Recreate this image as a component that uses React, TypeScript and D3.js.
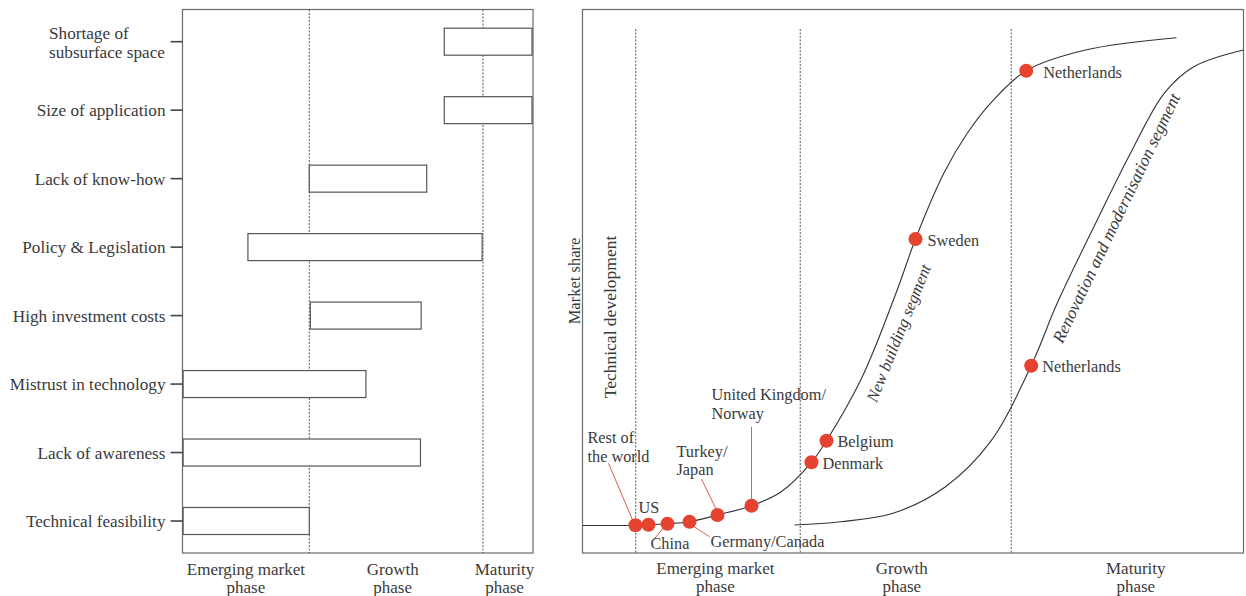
import React from "react";
import * as d3 from "d3";

// ---------- Left panel data ----------
const barriers = [
  "Shortage of|subsurface space",
  "Size of application",
  "Lack of know-how",
  "Policy & Legislation",
  "High investment costs",
  "Mistrust in technology",
  "Lack of awareness",
  "Technical feasibility",
];
// in phase units: 0 = start emerging, 1 = start growth, 2 = start maturity, 3 = end
const barStart = [1.777, 1.777, 1.0, 0.516, 1.006, 0.005, 0.005, 0.005];
const barEnd = [2.98, 2.98, 1.676, 1.995, 1.644, 1.326, 1.64, 1.0];
const leftPhaseBounds = [1, 2];
const leftPhaseLabels = ["Emerging market|phase", "Growth|phase", "Maturity|phase"];
const leftPhaseLabelPos = [0.5, 1.48, 2.43];

// ---------- Right panel data ----------
const newBuildingCurve: [number, number][] = [
  [0, 5.06], [8.02, 5.09], [12.86, 5.39], [16.19, 5.75], [20.42, 6.99],
  [25.57, 8.69], [30, 11.2], [34.64, 16.67], [36.91, 20.64], [42.33, 32.4],
  [47.61, 48.35], [50.38, 57.72], [54.66, 69.8], [58.2, 77.15], [61.72, 82.67],
  [67.13, 88.66], [76.1, 92.46], [89.86, 94.72],
];
const renovationCurve: [number, number][] = [
  [32.07, 5.15], [39.03, 5.75], [46.97, 7.3], [54.92, 12.19], [61.72, 20.46],
  [67.88, 34.43], [71.81, 45.9], [77.87, 61.21], [82.9, 73.47], [88, 84.5],
  [92.48, 89.39], [100, 92.46],
];
const countries = [
  "Rest of|the world", "US", "China", "Germany/Canada", "Turkey/|Japan",
  "United Kingdom/|Norway", "Denmark", "Belgium", "Sweden", "Netherlands", "Netherlands",
];
const countryX = [8.02, 9.98, 12.86, 16.19, 20.42, 25.57, 34.64, 36.91, 50.38, 67.13, 67.88];
const countryY = [5.09, 5.2, 5.39, 5.75, 6.99, 8.69, 16.67, 20.64, 57.72, 88.66, 34.43];
// label offsets in px relative to dot (first line centre) and optional leader line ends
const labelDx = [-48, -10, -17, 21, -41, -40, 11, 11, 12, 17, 11];
const labelDy = [-88, -17, 20, 20, -64, -111, 0.5, 1, 1, 2, 1];
const leaders: ([number, number, number, number] | null)[] = [
  [-27, -62, -2, -3], null, [-13, 15, -3, 3], [0, 2, 20, 15], [-16, -36, -1, -5],
  [0, -79, 0, -6], null, null, null, null, null,
];
const rightPhaseBounds = [8.05, 32.94, 64.86];
const rightPhaseLabels = ["Emerging market|phase", "Growth|phase", "Maturity|phase"];
const rightPhaseLabelPos = [20.1, 48.3, 83.7];

const FONT = "'Liberation Serif', 'Times New Roman', Times, serif";
const TXT = "#3a3a3a";
const AX = "#6a6a6a";
const RED = "#e5432f";

export default function App() {
  // Left panel scales
  const xL = d3.scaleLinear().domain([0, 1, 2, 3]).range([182.5, 309.3, 483, 533]);
  const yL = d3.scalePoint<string>().domain(barriers).range([41.7, 521]);
  const barH = 27;
  const lTop = 9.5, lBottom = 553;

  // Right panel scales
  const xR = d3.scaleLinear().domain([0, 100]).range([582.5, 1243.5]);
  const yR = d3.scaleLinear().domain([0, 100]).range([553, 9]);
  const line = d3
    .line<[number, number]>()
    .x((d) => xR(d[0]))
    .y((d) => yR(d[1]))
    .curve(d3.curveCatmullRom.alpha(0.5));

  const multi = (s: string, x: number, y: number, anchor: string, lh: number, size: number, key: string) => (
    <text key={key} x={x} y={y} textAnchor={anchor} fontSize={size} fontFamily={FONT} fill={TXT}>
      {s.split("|").map((t, i) => (
        <tspan key={i} x={x} dy={i === 0 ? "0.35em" : lh}>
          {t}
        </tspan>
      ))}
    </text>
  );

  return (
    <svg width={1246} height={596} style={{ position: "absolute", left: 0, top: 0, background: "#fff" }}>
      {/* ---------------- Left panel ---------------- */}
      <rect x={xL(0)} y={lTop} width={xL(3) - xL(0)} height={lBottom - lTop} fill="none" stroke={AX} strokeWidth={1.2} />
      {leftPhaseBounds.map((b) => (
        <line key={b} x1={xL(b)} x2={xL(b)} y1={lTop} y2={lBottom} stroke="#444" strokeWidth={0.9} strokeDasharray="2,1.5" />
      ))}
      {barriers.map((c, i) => (
        <g key={c}>
          <rect
            x={xL(barStart[i])}
            y={(yL(c) as number) - barH / 2}
            width={xL(barEnd[i]) - xL(barStart[i])}
            height={barH}
            fill="#fff"
            stroke="#555"
            strokeWidth={1.2}
          />
          <line x1={xL(0) - 12} x2={xL(0)} y1={yL(c)} y2={yL(c)} stroke="#444" strokeWidth={1.6} />
          {c.includes("|")
            ? (
              <text x={49} y={(yL(c) as number) - 8.5} fontSize={17.2} fontFamily={FONT} fill={TXT}>
                {c.split("|").map((t, j) => (
                  <tspan key={j} x={49} dy={j === 0 ? "0.35em" : 19}>{t}</tspan>
                ))}
              </text>
            )
            : (
              <text x={165.5} y={yL(c)} dy="0.35em" textAnchor="end" fontSize={17.2} fontFamily={FONT} fill={TXT}>
                {c}
              </text>
            )}
        </g>
      ))}
      {leftPhaseLabels.map((l, i) => multi(l, xL(leftPhaseLabelPos[i]), 569, "middle", 18.5, 17, "lp" + i))}

      {/* ---------------- Right panel ---------------- */}
      <rect x={xR(0)} y={yR(100) + 0.5} width={xR(100) - xR(0)} height={yR(0) - yR(100) - 0.5} fill="none" stroke={AX} strokeWidth={1.2} />
      {rightPhaseBounds.map((b) => (
        <line key={b} x1={xR(b)} x2={xR(b)} y1={29} y2={yR(0)} stroke="#444" strokeWidth={0.9} strokeDasharray="2,1.5" />
      ))}
      <path d={line(newBuildingCurve) || ""} fill="none" stroke="#333" strokeWidth={1.1} />
      <path d={line(renovationCurve) || ""} fill="none" stroke="#333" strokeWidth={1.1} />

      {countries.map((c, i) => {
        const cx = xR(countryX[i]);
        const cy = yR(countryY[i]);
        const ld = leaders[i];
        return (
          <g key={i}>
            {ld && (
              <line x1={cx + ld[0]} y1={cy + ld[1]} x2={cx + ld[2]} y2={cy + ld[3]} stroke="#d9604f" strokeWidth={1} />
            )}
          </g>
        );
      })}
      {countries.map((c, i) => (
        <circle key={"d" + i} cx={xR(countryX[i])} cy={yR(countryY[i])} r={7} fill={RED} />
      ))}
      {countries.map((c, i) =>
        multi(c, xR(countryX[i]) + labelDx[i], yR(countryY[i]) + labelDy[i], "start", 18.5, 16.3, "cl" + i)
      )}

      {/* segment labels */}
      <text
        transform="translate(898.5,333) rotate(-68)"
        textAnchor="middle"
        dy="0.35em"
        fontSize={16.5}
        fontStyle="italic"
        fontFamily={FONT}
        fill={TXT}
      >
        New building segment
      </text>
      <text
        transform="translate(1116,218) rotate(-64.5)"
        textAnchor="middle"
        dy="0.35em"
        fontSize={17.3}
        fontStyle="italic"
        fontFamily={FONT}
        fill={TXT}
      >
        Renovation and modernisation segment
      </text>
      <text transform="translate(574,281) rotate(-90)" textAnchor="middle" dy="0.35em" fontSize={16.5} fontFamily={FONT} fill={TXT}>
        Market share
      </text>
      <text transform="translate(610,317) rotate(-90)" textAnchor="middle" dy="0.35em" fontSize={17.5} fontFamily={FONT} fill={TXT}>
        Technical development
      </text>

      {rightPhaseLabels.map((l, i) => multi(l, xR(rightPhaseLabelPos[i]), 568, "middle", 18.5, 17, "rp" + i))}
    </svg>
  );
}
